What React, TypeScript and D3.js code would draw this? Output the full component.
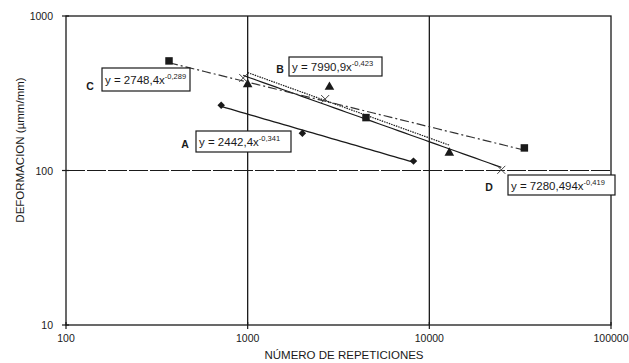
import React from "react";
import * as d3 from "d3";

const W = 629;
const H = 363;

// Data
const seriesAX = [715, 2000, 8180];
const seriesAY = [264, 174, 115];
const seriesBX = [1000, 2820, 12880];
const seriesBY = [361, 347, 130];
const seriesCX = [369, 4480, 33350];
const seriesCY = [512, 220, 140];
const seriesDX = [945, 2670, 24900];
const seriesDY = [397, 290, 101];

// Power trendline coefficients (y = a * x^b) shown in the chart
const trendA = [2442.4, -0.341];
const trendB = [7990.9, -0.423];
const trendC = [2748.4, -0.289];
const trendD = [7280.494, -0.419];

const eqTextA = ["y = 2442,4x", "-0,341"];
const eqTextB = ["y = 7990,9x", "-0,423"];
const eqTextC = ["y = 2748,4x", "-0,289"];
const eqTextD = ["y = 7280,494x", "-0,419"];

const xTicks = [100, 1000, 10000, 100000];
const yTicks = [10, 100, 1000];

const FONT = "Liberation Sans, Arial, sans-serif";
const INK = "#1a1a1a";

export default function App() {
  const x = d3.scaleLog().domain([100, 100000]).range([66, 611]);
  const y = d3.scaleLog().domain([10, 1000]).range([325, 16]);

  const trendPath = (coef: number[], xs: number[]) => {
    const x0 = d3.min(xs)!;
    const x1 = d3.max(xs)!;
    const pts = d3.range(0, 41).map((i) => {
      const xv = x0 * Math.pow(x1 / x0, i / 40);
      return [xv, coef[0] * Math.pow(xv, coef[1])] as [number, number];
    });
    return d3
      .line<[number, number]>()
      .x((d) => x(d[0]))
      .y((d) => y(d[1]))(pts)!;
  };

  const sym = (type: d3.SymbolType, size: number) => d3.symbol().type(type).size(size)()!;

  const eqBox = (
    txt: string[],
    bx: number,
    by: number,
    bw: number,
    bh: number,
    label: string,
    lx: number,
    ly: number
  ) => (
    <g>
      <rect x={bx} y={by} width={bw} height={bh} fill="#fff" stroke={INK} strokeWidth={1.2} />
      <text x={bx + 3} y={by + bh / 2 + 4.5} fontSize={11.5} fill={INK} fontFamily={FONT}>
        {txt[0]}
        <tspan fontSize={7.5} dy={-5}>
          {txt[1]}
        </tspan>
      </text>
      <text x={lx} y={ly} fontSize={10.5} fontWeight="bold" fill={INK} fontFamily={FONT} textAnchor="middle">
        {label}
      </text>
    </g>
  );

  return (
    <svg width={W} height={H} style={{ position: "absolute", left: 0, top: 0, background: "#fff" }}>
      <rect x={0} y={0} width={W} height={H} fill="#fff" />
      {/* plot frame */}
      <rect x={66} y={16} width={545} height={309} fill="none" stroke={INK} strokeWidth={1.3} />
      {/* vertical gridlines */}
      {[1000, 10000].map((t) => (
        <line key={t} x1={x(t)} x2={x(t)} y1={16} y2={325} stroke={INK} strokeWidth={1.3} />
      ))}
      {/* horizontal dashed gridline */}
      <line x1={66} x2={611} y1={y(100)} y2={y(100)} stroke={INK} strokeWidth={1.2} strokeDasharray="19,2" />

      {/* ticks */}
      {xTicks.map((t) => (
        <g key={t}>
          <line x1={x(t)} x2={x(t)} y1={322} y2={329} stroke={INK} strokeWidth={1.2} />
          <text x={x(t)} y={342} fontSize={10.5} fill={INK} fontFamily={FONT} textAnchor="middle">
            {t}
          </text>
        </g>
      ))}
      {yTicks.map((t) => (
        <g key={t}>
          <line x1={62} x2={69} y1={y(t)} y2={y(t)} stroke={INK} strokeWidth={1.2} />
          <text x={53} y={y(t) + 4} fontSize={10.5} fill={INK} fontFamily={FONT} textAnchor="end">
            {t}
          </text>
        </g>
      ))}

      {/* axis titles */}
      <text x={344} y={359} fontSize={11.5} fill={INK} fontFamily={FONT} textAnchor="middle">
        NÚMERO DE REPETICIONES
      </text>
      <text
        transform={`translate(24,${150}) rotate(-90)`}
        fontSize={11.5}
        fill={INK}
        fontFamily={FONT}
        textAnchor="middle"
      >
        DEFORMACION (µmm/mm)
      </text>

      {/* trendlines */}
      <path d={trendPath(trendA, seriesAX)} fill="none" stroke={INK} strokeWidth={1.3} />
      <path d={trendPath(trendD, seriesDX)} fill="none" stroke={INK} strokeWidth={1.2} />
      <path d={trendPath(trendB, seriesBX)} fill="none" stroke={INK} strokeWidth={1.2} strokeDasharray="1.5,1" />
      <path
        d={trendPath(trendC, seriesCX)}
        fill="none"
        stroke="#333"
        strokeWidth={1.2}
        strokeDasharray="9,3,2,3"
      />

      {/* markers */}
      {seriesAX.map((v, i) => (
        <path
          key={"a" + i}
          d={sym(d3.symbolSquare, 28)}
          transform={`translate(${x(v)},${y(seriesAY[i])}) rotate(45)`}
          fill={INK}
        />
      ))}
      {seriesCX.map((v, i) => (
        <path key={"c" + i} d={sym(d3.symbolSquare, 56)} transform={`translate(${x(v)},${y(seriesCY[i])})`} fill={INK} />
      ))}
      {seriesBX.map((v, i) => (
        <path key={"b" + i} d={sym(d3.symbolTriangle, 40)} transform={`translate(${x(v)},${y(seriesBY[i])})`} fill={INK} />
      ))}
      {seriesDX.map((v, i) => (
        <g key={"d" + i} transform={`translate(${x(v)},${y(seriesDY[i])})`} stroke="#444" strokeWidth={1}>
          <line x1={-4} y1={-4} x2={4} y2={4} />
          <line x1={-4} y1={4} x2={4} y2={-4} />
        </g>
      ))}

      {/* equation boxes */}
      {eqBox(eqTextC, 102, 68, 88, 23, "C", 90, 90)}
      {eqBox(eqTextA, 196, 131, 95, 21, "A", 185, 148)}
      {eqBox(eqTextB, 289, 57, 93, 19, "B", 280, 73)}
      {eqBox(eqTextD, 508, 175, 107, 20, "D", 489, 191)}
    </svg>
  );
}
